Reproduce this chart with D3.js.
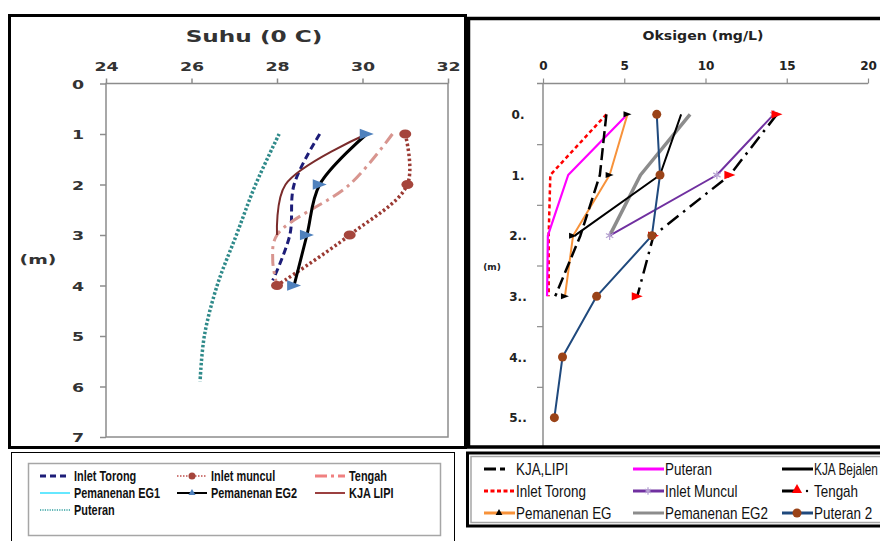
<!DOCTYPE html>
<meta charset="utf-8">
<html>
<head>
<script src="https://d3js.org/d3.v7.min.js"></script>
<style>
  body { margin: 0; background: white; }
  svg { display: block; }
</style>
</head>
<body>
<div id="chart"></div>
<script>
// ---- Suhu (temperature) panel data ----
const suhuTicks = [24, 26, 28, 30, 32];
const depthTicks = [0, 1, 2, 3, 4, 5, 6, 7];
const depthTorong = [1, 2, 3, 3.9];
const suhuTorong = [29.0, 28.4, 28.3, 27.9];
const depthMuncul = [1, 2, 3, 4];
const suhuMuncul = [31.0, 31.05, 29.7, 28.0];
const depthTengah = [1, 2, 3, 3.5, 4];
const suhuTengah = [30.7, 29.7, 28.0, 27.9, 28.0];
const depthEG2 = [1, 2, 3, 4];
const suhuEG2 = [30.1, 29.0, 28.7, 28.4];
const depthLipi = [1, 2, 3];
const suhuLipi = [30.1, 28.2, 28.0];
const depthPuteran = [1, 2, 3, 4, 5, 5.9];
const suhuPuteran = [28.05, 27.5, 27.05, 26.6, 26.3, 26.2];

// ---- Oksigen panel data ----
const oksiTicks = [0, 5, 10, 15, 20];
const depthCats = ["0.", "1.", "2..", "3..", "4..", "5.."];
const oksiKjaLipi = [3.9, 3.5, 2.3, 0.75, null, null];
const oksiPuteran = [5.2, 1.55, 0.3, 0.25, null, null];
const oksiBejalen = [8.5, 7.2, 1.95, null, null, null];
const oksiTorong = [3.9, 0.45, 0.35, 0.35, null, null];
const oksiMuncul = [14.2, 10.7, 4.1, null, null, null];
const oksiTengah = [14.4, 11.5, 6.8, 5.8, null, null];
const oksiEG = [5.2, 4.1, 1.85, 1.35, null, null];
const oksiEG2 = [9.05, 6.0, 4.1, null, null, null];
const oksiPuteran2 = [7.0, 7.2, 6.7, 3.3, 1.2, 0.7];

const W = 880, H = 541;
const svg = d3.select("#chart").append("svg").attr("width", W).attr("height", H);

// stretch / squeeze text horizontally around its own anchor point
function stretch(sel, f) {
  sel.each(function() {
    const t = d3.select(this);
    const x = +t.attr("x") || 0, y = +t.attr("y") || 0;
    t.attr("transform", "translate(" + x + "," + y + ") scale(" + f + ",1) translate(" + (-x) + "," + (-y) + ")");
  });
}

function triRight(s) { // triangle pointing right, width s
  return "M" + (s/2) + ",0L" + (-s/2) + "," + (-s*0.38) + "L" + (-s/2) + "," + (s*0.38) + "Z";
}

// ================= LEFT PANEL =================
const xS = d3.scaleLinear().domain([24, 32]).range([106, 448]);
const yS = d3.scaleLinear().domain([0, 7]).range([83.5, 437]);

const left = svg.append("g");
left.append("rect").attr("x", 106).attr("y", 83.5).attr("width", 342).attr("height", 353.5)
  .attr("fill", "none").attr("stroke", "#8c8c8c").attr("stroke-width", 1.5);

const axT = left.append("g").attr("transform", "translate(0,83.5)")
  .call(d3.axisTop(xS).tickValues(suhuTicks).tickFormat(d3.format("d")).tickSize(5).tickPadding(8));
const axL = left.append("g").attr("transform", "translate(106,0)")
  .call(d3.axisLeft(yS).tickValues(depthTicks).tickFormat(d3.format("d")).tickSize(6).tickPadding(22));
[axT, axL].forEach(a => {
  a.select(".domain").remove();
  a.selectAll("line").attr("stroke", "#8c8c8c").attr("stroke-width", 1.5);
  a.selectAll("text").attr("font-family", "DejaVu Sans").attr("font-weight", "bold")
    .attr("font-size", 12).attr("fill", "#333");
});
axL.selectAll("text").attr("text-anchor", "middle").attr("dy", "0.38em");
stretch(axT.selectAll("text"), 1.45);
stretch(axL.selectAll("text"), 1.45);

const t1 = left.append("text").attr("x", 254).attr("y", 42).attr("text-anchor", "middle")
  .attr("font-family", "DejaVu Sans").attr("font-weight", "bold").attr("font-size", 16)
  .attr("fill", "#333").text("Suhu (0 C)");
stretch(t1, 1.45);
const m1 = left.append("text").attr("x", 38).attr("y", 264).attr("text-anchor", "middle")
  .attr("font-family", "DejaVu Sans").attr("font-weight", "bold").attr("font-size", 13)
  .attr("fill", "#333").text("(m)");
stretch(m1, 1.45);

const smooth = d3.line().curve(d3.curveCatmullRom.alpha(0.5));
function leftLine(dep, val, color, width, dash) {
  const pts = dep.map((d, i) => [xS(val[i]), yS(d)]);
  left.append("path").attr("d", smooth(pts)).attr("fill", "none")
    .attr("stroke", color).attr("stroke-width", width)
    .attr("stroke-dasharray", dash || null);
  return pts;
}

leftLine(depthPuteran, suhuPuteran, "#2f8a8a", 3.5, "2.5,2");
leftLine(depthTorong, suhuTorong, "#1d1d78", 3, "7,4");
leftLine(depthTengah, suhuTengah, "#d8958f", 3, "12,5,3,5");
leftLine(depthLipi, suhuLipi, "#7a2b2b", 2);
const ptsMuncul = leftLine(depthMuncul, suhuMuncul, "#9b3a33", 3.5, "2.5,2.5");
left.selectAll(".mMuncul").data(ptsMuncul).join("ellipse")
  .attr("cx", d => d[0]).attr("cy", d => d[1]).attr("rx", 6).attr("ry", 4.5).attr("fill", "#a5453c");
const ptsEG2 = leftLine(depthEG2, suhuEG2, "#000", 3);
left.selectAll(".mEG2").data(ptsEG2).join("path")
  .attr("transform", d => "translate(" + d[0] + "," + d[1] + ")")
  .attr("d", triRight(14)).attr("fill", "#4f81bd");

// frame
svg.append("rect").attr("x", 9.5).attr("y", 15.5).attr("width", 456).attr("height", 432)
  .attr("fill", "none").attr("stroke", "#000").attr("stroke-width", 3);

// ================= RIGHT PANEL =================
const xO = d3.scaleLinear().domain([0, 20]).range([543, 868]);
const yO = d3.scaleBand().domain(depthCats).range([84, 448]);
const yC = c => yO(c) + yO.bandwidth() / 2;
const right = svg.append("g");

const axT2 = right.append("g").attr("transform", "translate(0,83.5)")
  .call(d3.axisTop(xO).tickValues(oksiTicks).tickSize(5).tickPadding(9));
axT2.select(".domain").attr("d", "M537,0H868").attr("stroke", "#8c8c8c").attr("stroke-width", 1.5);
axT2.selectAll("line").attr("stroke", "#8c8c8c").attr("stroke-width", 1.2);
axT2.selectAll("text").attr("font-family", "DejaVu Sans").attr("font-weight", "bold")
  .attr("font-size", 12).attr("fill", "#222");

right.append("line").attr("x1", 543).attr("x2", 543).attr("y1", 83.5).attr("y2", 448)
  .attr("stroke", "#8c8c8c").attr("stroke-width", 1.5);
right.selectAll(".ctick").data(depthCats.slice(1)).join("line")
  .attr("x1", 537).attr("x2", 543).attr("y1", d => yO(d)).attr("y2", d => yO(d))
  .attr("stroke", "#8c8c8c").attr("stroke-width", 1.2);
right.selectAll(".clab").data(depthCats).join("text")
  .attr("x", 518).attr("y", d => yC(d)).attr("dy", "0.38em").attr("text-anchor", "middle")
  .attr("font-family", "DejaVu Sans").attr("font-weight", "bold").attr("font-size", 12)
  .attr("fill", "#222").text(d => d);

const t2 = right.append("text").attr("x", 703).attr("y", 40).attr("text-anchor", "middle")
  .attr("font-family", "DejaVu Sans").attr("font-weight", "bold").attr("font-size", 12)
  .attr("fill", "#222").text("Oksigen (mg/L)");
t2.attr("textLength", 121).attr("lengthAdjust", "spacingAndGlyphs");
right.append("text").attr("x", 492).attr("y", 270).attr("text-anchor", "middle")
  .attr("font-family", "DejaVu Sans").attr("font-weight", "bold").attr("font-size", 9)
  .attr("fill", "#222").text("(m)");

const straight = d3.line().defined(d => d[2] != null).x(d => d[0]).y(d => d[1]);
function rightLine(vals, color, width, dash) {
  const pts = vals.map((v, i) => [v == null ? 0 : xO(v), yC(depthCats[i]), v]);
  right.append("path").attr("d", straight(pts)).attr("fill", "none")
    .attr("stroke", color).attr("stroke-width", width)
    .attr("stroke-dasharray", dash || null).attr("stroke-linejoin", "round");
  return pts.filter(p => p[2] != null);
}

rightLine(oksiEG2, "#8c8c8c", 3.5);
rightLine(oksiBejalen, "#000", 2);
rightLine(oksiTorong, "#ff0000", 2.5, "4,3");
rightLine(oksiPuteran, "#ff00ff", 2.2);
const pEG = rightLine(oksiEG, "#f7923a", 2);
right.selectAll(".mEG").data(pEG).join("path")
  .attr("transform", d => "translate(" + d[0] + "," + d[1] + ")")
  .attr("d", triRight(8)).attr("fill", "#000");
rightLine(oksiKjaLipi, "#000", 2.5, "12,5");
const pMun = rightLine(oksiMuncul, "#7030a0", 2);
right.selectAll(".mMun").data(pMun).join("path")
  .attr("transform", d => "translate(" + d[0] + "," + d[1] + ")")
  .attr("d", d3.symbol(d3.symbolAsterisk, 50)).attr("fill", "none")
  .attr("stroke", "#b7a3d3").attr("stroke-width", 1.3);
const pTen = rightLine(oksiTengah, "#000", 2.5, "14,6,2.5,6");
right.selectAll(".mTen").data(pTen).join("path")
  .attr("transform", d => "translate(" + d[0] + "," + d[1] + ")")
  .attr("d", triRight(11)).attr("fill", "#ff0000");
const pP2 = rightLine(oksiPuteran2, "#1f497d", 2);
right.selectAll(".mP2").data(pP2).join("circle")
  .attr("cx", d => d[0]).attr("cy", d => d[1]).attr("r", 4.5).attr("fill", "#9a4318");

// frame
svg.append("rect").attr("x", 468.5).attr("y", 18.5).attr("width", 420).attr("height", 428.5)
  .attr("fill", "none").attr("stroke", "#000").attr("stroke-width", 3.5);

// ================= LEGENDS =================
svg.append("rect").attr("x", 11.5).attr("y", 452.5).attr("width", 443).attr("height", 100)
  .attr("fill", "none").attr("stroke", "#000").attr("stroke-width", 1);
svg.append("rect").attr("x", 28.5).attr("y", 463.5).attr("width", 412).attr("height", 72)
  .attr("fill", "none").attr("stroke", "#a6a6a6").attr("stroke-width", 1.5);
svg.append("rect").attr("x", 467.5).attr("y", 453).attr("width", 420).attr("height", 73)
  .attr("fill", "none").attr("stroke", "#000").attr("stroke-width", 3);
svg.append("rect").attr("x", 471).attr("y", 456.5).attr("width", 420).attr("height", 66)
  .attr("fill", "none").attr("stroke", "#a6a6a6").attr("stroke-width", 1.5);

const legLeft = [
  {name: "Inlet Torong", col: 0, row: 0, color: "#1d1d78", w: 3, dash: "6,4"},
  {name: "Inlet muncul", col: 1, row: 0, color: "#c0504d", w: 1.5, dash: "1.5,1.5", mark: "circle", mcol: "#a5453c"},
  {name: "Tengah", col: 2, row: 0, color: "#f08080", w: 3, dash: "12,4,3,4"},
  {name: "Pemanenan EG1", col: 0, row: 1, color: "#33e0ff", w: 1.5},
  {name: "Pemanenan EG2", col: 1, row: 1, color: "#000", w: 2, mark: "tri", mcol: "#4f81bd"},
  {name: "KJA LIPI", col: 2, row: 1, color: "#7a0000", w: 1.5},
  {name: "Puteran", col: 0, row: 2, color: "#31a0a0", w: 1.5, dash: "1.2,1.2"}
];
const legLX = [40, 177, 315], legLY = [476, 493, 510];
legLeft.forEach(d => {
  const x = legLX[d.col], y = legLY[d.row];
  svg.append("line").attr("x1", x).attr("x2", x + 30).attr("y1", y).attr("y2", y)
    .attr("stroke", d.color).attr("stroke-width", d.w).attr("stroke-dasharray", d.dash || null);
  if (d.mark === "circle") svg.append("circle").attr("cx", x + 15).attr("cy", y).attr("r", 3.5).attr("fill", d.mcol);
  if (d.mark === "tri") svg.append("path").attr("transform", "translate(" + (x + 15) + "," + y + ")")
    .attr("d", d3.symbol(d3.symbolTriangle, 22)).attr("fill", d.mcol);
  const t = svg.append("text").attr("x", x + 34).attr("y", y).attr("dy", "0.36em")
    .attr("font-family", "'Liberation Sans', Arial").attr("font-weight", "bold")
    .attr("font-size", 14).attr("fill", "#111").text(d.name);
  stretch(t, 0.78);
});

const legRight = [
  {name: "KJA,LIPI", col: 0, row: 0, color: "#000", w: 3, dash: "12,4,5,30"},
  {name: "Puteran", col: 1, row: 0, color: "#ff00ff", w: 3},
  {name: "KJA Bejalen", col: 2, row: 0, color: "#000", w: 3},
  {name: "Inlet Torong", col: 0, row: 1, color: "#ff0000", w: 3, dash: "4,2.5"},
  {name: "Inlet Muncul", col: 1, row: 1, color: "#7030a0", w: 3, mark: "ast"},
  {name: "Tengah", col: 2, row: 1, color: "#000", w: 3, dash: "12,20", mark: "rtri"},
  {name: "Pemanenan EG", col: 0, row: 2, color: "#f7923a", w: 3, mark: "tri"},
  {name: "Pemanenan EG2", col: 1, row: 2, color: "#8c8c8c", w: 3},
  {name: "Puteran 2", col: 2, row: 2, color: "#1f497d", w: 3, mark: "circle"}
];
const legRX = [484, 633, 782], legRY = [469, 491, 513];
legRight.forEach(d => {
  const x = legRX[d.col], y = legRY[d.row];
  svg.append("line").attr("x1", x).attr("x2", x + 31).attr("y1", y).attr("y2", y)
    .attr("stroke", d.color).attr("stroke-width", d.w).attr("stroke-dasharray", d.dash || null);
  if (d.mark === "circle") svg.append("circle").attr("cx", x + 15).attr("cy", y).attr("r", 4.5).attr("fill", "#9a4318");
  if (d.mark === "tri") svg.append("path").attr("transform", "translate(" + (x + 15) + "," + y + ")")
    .attr("d", d3.symbol(d3.symbolTriangle, 20)).attr("fill", "#000");
  if (d.mark === "ast") svg.append("path").attr("transform", "translate(" + (x + 15) + "," + y + ")")
    .attr("d", d3.symbol(d3.symbolAsterisk, 40)).attr("stroke", "#b7a3d3").attr("stroke-width", 1.3);
  if (d.mark === "rtri") {
    svg.append("path").attr("transform", "translate(" + (x + 15) + "," + (y - 1) + ")")
      .attr("d", d3.symbol(d3.symbolTriangle, 45)).attr("fill", "#ff0000");
    svg.append("circle").attr("cx", x + 25).attr("cy", y).attr("r", 1.2).attr("fill", "#000");
  }
  const t = svg.append("text").attr("x", x + 32).attr("y", y).attr("dy", "0.36em")
    .attr("font-family", "'Liberation Sans', Arial")
    .attr("font-size", 16).attr("fill", "#111").text(d.name);
  // squeeze to a narrow face; keep the last column inside the picture
  const w = t.node().getComputedTextLength();
  stretch(t, Math.min(0.84, (W - 2 - (x + 32)) / w));
});
</script>
</body>
</html>
